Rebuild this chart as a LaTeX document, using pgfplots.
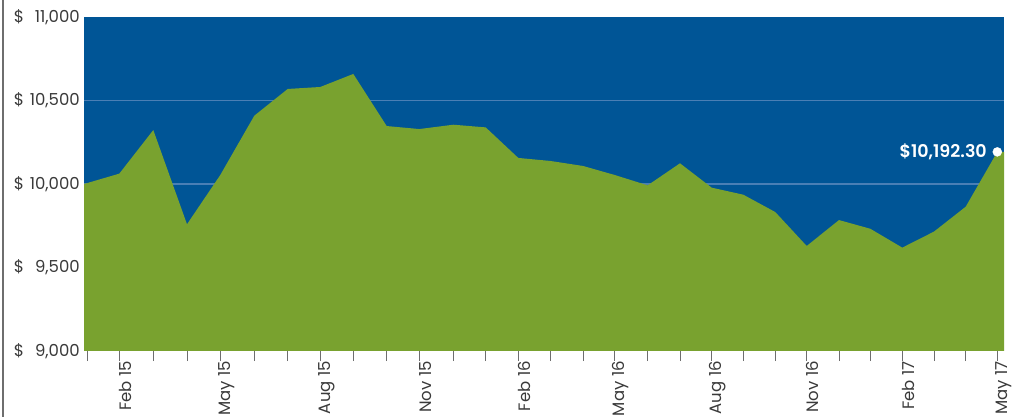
\documentclass[border=0pt]{standalone}
\usepackage{pgfplots}
\pgfplotsset{compat=1.18}
\usepackage{fontspec}
\setmainfont{Poppins}
\newfontfamily\semib{Poppins}[UprightFont=* SemiBold]
\definecolor{bgblue}{HTML}{005596}
\definecolor{fillgreen}{HTML}{79A22F}
\definecolor{gridblue}{HTML}{4A7FB5}
\definecolor{txt}{HTML}{3A3A3A}
\definecolor{tickgray}{HTML}{6E6E6E}
\begin{document}
\begin{tikzpicture}
\useasboundingbox (0,0) rectangle (1016bp,417bp);
\draw[tickgray, line width=1.2bp] (3bp,0) -- (3bp,417bp);
\begin{axis}[
  at={(84bp,66bp)}, anchor=south west,
  scale only axis, width=920bp, height=334bp,
  xmin=84, xmax=1004, ymin=9000, ymax=11000,
  scaled y ticks=false,
  axis background/.style={fill=bgblue},
  axis line style={draw=none},
  xtick={87,119.3,153.3,187,220.3,254.3,287.7,320.3,353.3,386.7,419.3,453.3,485.7,518.3,550.3,583,614.7,647.7,680,711.7,743.3,775.3,806.7,839,870.3,902.3,934,965.7,997.3},
  xticklabels={,Feb 15,,,May 15,,,Aug 15,,,Nov 15,,,Feb 16,,,May 16,,,Aug 16,,,Nov 16,,,Feb 17,,,May 17},
  xtick align=outside, xtick pos=bottom,
  major tick length=10bp,
  x tick style={tickgray, line width=1bp},
  xticklabel style={rotate=90, anchor=east, font=\fontsize{16.5bp}{18bp}\selectfont, text=txt, inner sep=0pt, yshift=-6bp},
  ytick={9000,9500,10000,10500,11000},
  yticklabels={\makebox[66bp]{\$\hfill 9,000},\makebox[66bp]{\$\hfill 9,500},\makebox[66bp]{\$\hfill 10,000},\makebox[66bp]{\$\hfill 10,500},\makebox[66bp]{\$\hfill 11,000}},
  y tick style={draw=none},
  yticklabel style={anchor=east, inner sep=0pt, xshift=-4bp, font=\fontsize{16.5bp}{18bp}\selectfont, text=txt},
  extra y ticks={9500,10000,10500},
  extra y tick labels={},
  extra y tick style={grid=major, major grid style={gridblue, line width=1.2bp}, tick style={draw=none}},
  clip=true,
]
\addplot[fill=fillgreen, draw=none] coordinates {
(84,10000) (119.3,10062) (153.3,10323) (187,9759) (220.3,10054) (254.3,10409)
(287.7,10569) (320.3,10581) (353.3,10659) (386.7,10347) (419.3,10329) (453.3,10355)
(485.7,10339) (518.3,10156) (550.3,10138) (583,10108) (614.7,10054) (647.7,9992)
(680,10124) (711.7,9978) (743.3,9936) (775.3,9832) (806.7,9629) (839,9784)
(870.3,9732) (902.3,9619) (934,9715) (965.7,9864) (997.3,10192.3) (1004,10192.3)
} \closedcycle;
\addplot[only marks, mark=*, mark size=4.5bp, white] coordinates {(997.3,10192.3)};
\node[anchor=east, text=white, font=\semib\fontsize{17.5bp}{19bp}\selectfont, inner sep=0pt] at (axis cs:987,10192.3) {\$10,192.30};
\end{axis}
\end{tikzpicture}
\end{document}
